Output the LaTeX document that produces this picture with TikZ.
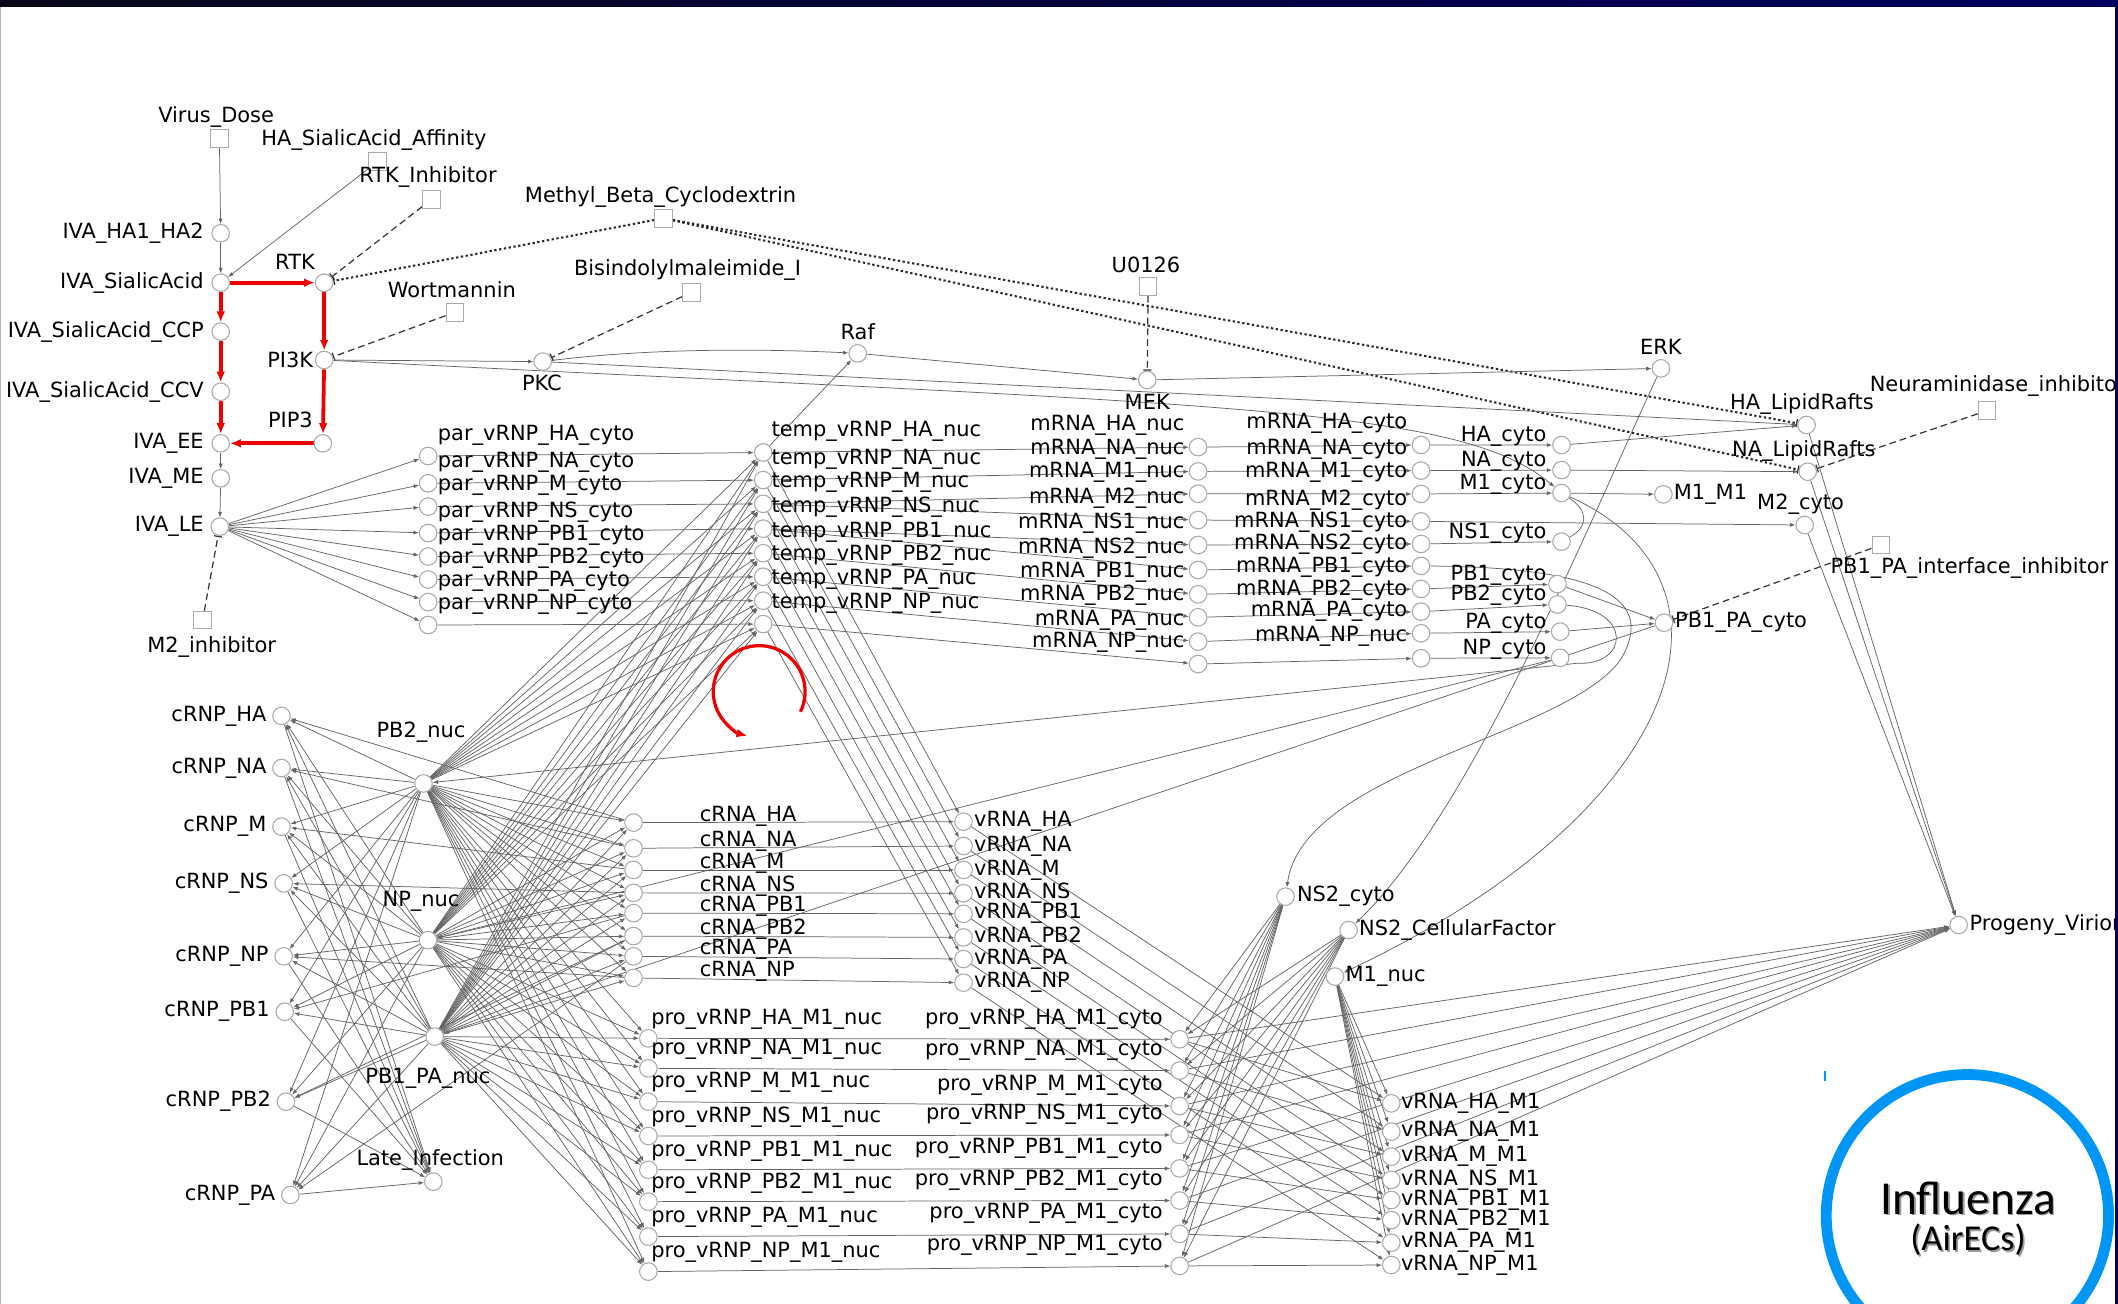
\documentclass[tikz,border=0pt]{standalone}
\usepackage{fontspec}
\setmainfont{DejaVu Sans}
\newfontfamily\titlefont{Carlito}
\usetikzlibrary{arrows.meta}
\pgfdeclarelayer{background}
\pgfsetlayers{background,main}
\definecolor{barleft}{RGB}{8,8,24}
\definecolor{barright}{RGB}{0,0,96}
\definecolor{ringblue}{RGB}{0,150,245}
\definecolor{edgegray}{RGB}{100,100,100}
\definecolor{nodegray}{RGB}{170,170,170}
\definecolor{hitred}{RGB}{238,0,0}
\tikzset{
  cn/.style={circle, draw=nodegray, fill=white, line width=0.8pt, minimum size=13pt, inner sep=0pt},
  sq/.style={rectangle, draw=nodegray, fill=white, line width=0.8pt, minimum size=13pt, inner sep=0pt},
  lbl/.style={font=\fontsize{15.5}{18}\selectfont, inner sep=0pt, text=black},
  ed/.style={draw=edgegray, line width=0.55pt, -{Latex[length=4pt,width=3pt]}},
  plain/.style={draw=edgegray, line width=0.55pt},
  inh/.style={draw=black!80, line width=0.9pt, dash pattern=on 5pt off 3pt, -{Bar[width=6pt,line width=0.9pt]}},
  dott/.style={draw=black!85, line width=1.5pt, dash pattern=on 1.7pt off 1.9pt, -{Bar[width=6pt,line width=0.9pt]}},
  hot/.style={draw=hitred, line width=2.8pt, -{Latex[length=8pt,width=6.5pt]}}
}
\begin{document}
\begin{tikzpicture}[x=1pt,y=-1pt]
\useasboundingbox (0,0) rectangle (1568,965);
\begin{pgfonlayer}{background}
  \fill[white] (0,0) rectangle (1568,965);
\end{pgfonlayer}

% ---------- entry and signalling ----------
\node[sq] (VirusDose) at (162.4,102.4) {};
\node[lbl] (VirusDose-t) at (160,86.4) {Virus\_Dose};
\node[sq] (Affinity) at (279.5,119.7) {};
\node[lbl] (Affinity-t) at (276.8,103.6) {HA\_SialicAcid\_Affinity};
\node[sq] (RTKInh) at (319.5,147.6) {};
\node[lbl] (RTKInh-t) at (316.8,131.3) {RTK\_Inhibitor};
\node[sq] (Methyl) at (491.2,161.6) {};
\node[lbl] (Methyl-t) at (489,146) {Methyl\_Beta\_Cyclodextrin};
\node[cn] (HA1HA2) at (163.4,172.7) {};
\node[lbl,anchor=east] (HA1HA2-t) at (151,172.7) {IVA\_HA1\_HA2};
\node[cn] (SialicAcid) at (163.4,209.3) {};
\node[lbl,anchor=east] (SialicAcid-t) at (151,209.3) {IVA\_SialicAcid};
\node[cn] (RTK) at (240,209.3) {};
\node[lbl] (RTK-t) at (218.4,193.7) {RTK};
\node[cn] (CCP) at (163.4,245.5) {};
\node[lbl,anchor=east] (CCP-t) at (151,245.5) {IVA\_SialicAcid\_CCP};
\node[cn] (PI3K) at (240,266.5) {};
\node[lbl,anchor=east] (PI3K-t) at (232,266.5) {PI3K};
\node[sq] (Wort) at (336.8,231.2) {};
\node[lbl] (Wort-t) at (334.5,214.7) {Wortmannin};
\node[sq] (Bis) at (511.9,216.4) {};
\node[lbl] (Bis-t) at (509,200) {Bisindolylmaleimide\_I};
\node[cn] (PKC) at (401.8,267.7) {};
\node[lbl] (PKC-t) at (401.2,283.8) {PKC};
\node[cn] (CCV) at (163.4,290) {};
\node[lbl,anchor=east] (CCV-t) at (151,290) {IVA\_SialicAcid\_CCV};
\node[cn] (PIP3) at (239,328.2) {};
\node[lbl] (PIP3-t) at (215,311) {PIP3};
\node[cn] (EE) at (163.4,328.2) {};
\node[lbl,anchor=east] (EE-t) at (151,328.2) {IVA\_EE};
\node[cn] (ME) at (163.4,354.1) {};
\node[lbl,anchor=east] (ME-t) at (151,354.1) {IVA\_ME};
\node[cn] (LE) at (162.7,389.9) {};
\node[lbl,anchor=east] (LE-t) at (151,389.9) {IVA\_LE};
\node[sq] (M2inh) at (150,459) {};
\node[lbl] (M2inh-t) at (156.7,478.7) {M2\_inhibitor};
\node[cn] (Raf) at (635,261.6) {};
\node[lbl] (Raf-t) at (635,245.5) {Raf};
\node[sq] (U0126) at (850,212.2) {};
\node[lbl] (U0126-t) at (848.4,196.2) {U0126};
\node[cn] (MEK) at (849.3,281.3) {};
\node[lbl] (MEK-t) at (849.3,297.4) {MEK};
\node[cn] (ERK) at (1229.6,272.7) {};
\node[lbl] (ERK-t) at (1229.6,256.6) {ERK};

% ---------- right-hand cytoplasm ----------
\node[cn] (HALR) at (1337.4,314.6) {};
\node[lbl] (HALR-t) at (1334,299) {HA\_LipidRafts};
\node[cn] (NALR) at (1338.3,349.2) {};
\node[lbl] (NALR-t) at (1335.4,333.6) {NA\_LipidRafts};
\node[sq] (NeuInh) at (1471,304) {};
\node[lbl,anchor=west] (NeuInh-t) at (1384,286) {Neuraminidase\_inhibitor};
\node[cn] (M2cyto) at (1336,388.7) {};
\node[lbl] (M2cyto-t) at (1333,373) {M2\_cyto};
\node[sq] (PBInh) at (1392.4,403.5) {};
\node[lbl,anchor=west] (PBInh-t) at (1355,420.6) {PB1\_PA\_interface\_inhibitor};
\node[cn] (PB1PAcyto) at (1231.9,461) {};
\node[lbl,anchor=west] (PB1PAcyto-t) at (1240,461) {PB1\_PA\_cyto};
\node[cn] (M1M1) at (1231.4,366) {};
\node[lbl,anchor=west] (M1M1-t) at (1239,366) {M1\_M1};

% ---------- vRNP columns ----------
\foreach \s/\y in {HA/337.6,NA/357.8,M/375,NS/394.6,PB1/412,PB2/429,PA/445.7,NP/462.7}{
  \node[cn] (par-\s) at (317,\y) {};
  \node[lbl,anchor=west] (par-\s-t) at (324,\y-15.5) {par\_vRNP\_\s\_cyto};
}
\foreach \s/\y in {HA/335,NA/355.4,M/373,NS/391.4,PB1/409.5,PB2/427,PA/444.7,NP/462}{
  \node[cn] (temp-\s) at (565,\y) {};
  \node[lbl,anchor=west] (temp-\s-t) at (571,\y-15.7) {temp\_vRNP\_\s\_nuc};
}
\foreach \s/\y in {HA/331,NA/349,M1/365.5,M2/385,NS1/403.5,NS2/422,PB1/440,PB2/457,PA/475,NP/491.6}{
  \node[cn] (mn-\s) at (887,\y) {};
  \node[lbl,anchor=east] (mn-\s-t) at (877,\y-16) {mRNA\_\s\_nuc};
}
\foreach \s/\y/\t in {HA/329.4/cyto,NA/348.4/cyto,M1/365.7/cyto,M2/386/cyto,NS1/402.7/cyto,NS2/419/cyto,PB1/436/cyto,PB2/452.8/cyto,PA/468.8/cyto,NP/487.3/nuc}{
  \node[cn] (mc-\s) at (1052,\y) {};
  \node[lbl,anchor=east] (mc-\s-t) at (1042,\y-16) {mRNA\_\s\_\t};
}
\foreach \s/\x/\y in {HA/1156/329.5,NA/1156/348,M1/1156/365,NS1/1156/401,PB1/1153/432.4,PB2/1153/447.5,PA/1155/467.6,NP/1155/487}{
  \node[cn] (p-\s) at (\x,\y) {};
  \node[lbl,anchor=east] (p-\s-t) at (1145,\y-6.5) {\s\_cyto};
}

% ---------- nucleus: replication ----------
\foreach \s/\x/\y in {HA/208.4/530,NA/208.4/568.6,M/208.4/612,NS/210/654,NP/210/708,PB1/210.8/749,PB2/211.7/815.6,PA/215/884.7}{
  \node[cn] (cRNP-\s) at (\x,\y) {};
  \node[lbl,anchor=east] (cRNP-\s-t) at (\x-11,\y) {cRNP\_\s};
}
\node[cn] (PB2nuc) at (313.5,580) {};
\node[lbl] (PB2nuc-t) at (311.7,541.7) {PB2\_nuc};
\node[cn] (NPnuc) at (316.8,696) {};
\node[lbl] (NPnuc-t) at (311.7,667.5) {NP\_nuc};
\node[cn] (PB1PAnuc) at (321.8,767.4) {};
\node[lbl] (PB1PAnuc-t) at (316.8,798) {PB1\_PA\_nuc};
\node[cn] (Late) at (320.8,874.8) {};
\node[lbl] (Late-t) at (318.5,858.8) {Late\_Infection};
\foreach \s/\y in {HA/609,NA/628,M/644,NS/661,PB1/676,PB2/693,PA/708,NP/724}{
  \node[cn] (cRNA-\s) at (469,\y) {};
  \node[lbl,anchor=west] (cRNA-\s-t) at (518,\y-5) {cRNA\_\s};
}
\foreach \s/\y in {HA/608.3,NA/626.3,M/644,NS/661.3,PB1/676.5,PB2/694,PA/710,NP/727.5}{
  \node[cn] (vRNA-\s) at (713.3,\y) {};
  \node[lbl,anchor=west] (vRNA-\s-t) at (721,\y) {vRNA\_\s};
}
\foreach \s/\y in {HA/768.7,NA/790.9,M/815.6,NS/841,PB1/866,PB2/889.6,PA/915.5,NP/941.4}{
  \node[cn] (pnuc-\s) at (480,\y) {};
  \node[lbl,anchor=west] (pnuc-\s-t) at (482,\y-14) {pro\_vRNP\_\s\_M1\_nuc};
}
\foreach \s/\y in {HA/769.4,NA/792.6,M/818.8,NS/840.2,PB1/865,PB2/888.8,PA/913.5,NP/937.2}{
  \node[cn] (pcyto-\s) at (873.3,\y) {};
  \node[lbl,anchor=east] (pcyto-\s-t) at (861,\y-15) {pro\_vRNP\_\s\_M1\_cyto};
}
\foreach \s/\y in {HA/816.8,NA/837.8,M/856.3,NS/873.5,PB1/888.4,PB2/903.2,PA/920,NP/936.5}{
  \node[cn] (vM1-\s) at (1030,\y) {};
  \node[lbl,anchor=west] (vM1-\s-t) at (1037,\y) {vRNA\_\s\_M1};
}
\node[cn] (NS2cyto) at (951.7,663.8) {};
\node[lbl,anchor=west] (NS2cyto-t) at (960,663.8) {NS2\_cyto};
\node[cn] (NS2CF) at (998.4,688.5) {};
\node[lbl,anchor=west] (NS2CF-t) at (1006,688.5) {NS2\_CellularFactor};
\node[cn] (M1nuc) at (988.3,723) {};
\node[lbl,anchor=west] (M1nuc-t) at (996,723) {M1\_nuc};
\node[cn] (Progeny) at (1450,684.8) {};
\node[lbl,anchor=west] (Progeny-t) at (1458,684.8) {Progeny\_Virion};

% ---------- connectors ----------
\begin{pgfonlayer}{background}
  \draw[ed] (VirusDose) -- (HA1HA2);
  \draw[ed] (HA1HA2) -- (SialicAcid);
  \draw[ed] (Affinity) -- (SialicAcid);
  \draw[hot] (SialicAcid) -- (RTK);
  \draw[hot] (RTK) -- (PI3K);
  \draw[hot] (PI3K) -- (PIP3);
  \draw[hot] (PIP3) -- (EE);
  \draw[hot] (SialicAcid) -- (CCP);
  \draw[hot] (CCP) -- (CCV);
  \draw[hot] (CCV) -- (EE);
  \draw[ed] (EE) -- (ME);
  \draw[ed] (ME) -- (LE);
  \draw[inh] (RTKInh) -- (RTK);
  \draw[inh] (Wort) -- (PI3K);
  \draw[inh] (Bis) -- (PKC);
  \draw[inh] (U0126) -- (MEK);
  \draw[inh] (M2inh) -- (LE);
  \draw[inh] (NeuInh) -- (NALR);
  \draw[inh] (PBInh) -- (PB1PAcyto);
  \draw[dott] (Methyl) -- (RTK);
  \draw[dott] (Methyl) -- (HALR);
  \draw[dott] (Methyl) -- (NALR);
  \draw[ed] (PI3K) -- (PKC);
  \draw[ed] (PKC) .. controls (480,258) and (560,258) .. (Raf);
  \draw[ed] (PKC) -- (HALR);
  \draw[ed] (PI3K) .. controls (900,300) and (1080,300) .. (p-M1);
  \draw[ed] (temp-HA) -- (Raf);
  \draw[ed] (Raf) -- (MEK);
  \draw[ed] (MEK) -- (ERK);
  \draw[ed] (ERK) .. controls (1175,390) and (1090,600) .. (NS2CF);

  \foreach \a/\b in {HA/HA,NA/NA,M/M1,M/M2,NS/NS1,NS/NS2,PB1/PB1,PB2/PB2,PA/PA,NP/NP}
    \draw[ed] (temp-\a) -- (mn-\b);
  \foreach \b in {HA,NA,M1,M2,NS1,NS2,PB1,PB2,PA,NP}
    \draw[ed] (mn-\b) -- (mc-\b);
  \foreach \b in {HA,NA,M1,NS1,PB1,PB2,PA,NP}
    \draw[ed] (mc-\b) -- (p-\b);
  \draw[ed] (mc-M2) -- (M2cyto);
  \draw[ed] (mc-NS2) .. controls (1190,420) and (1225,445) .. (1200,488)
            .. controls (1160,545) and (965,570) .. (NS2cyto);
  \draw[ed] (p-HA) -- (HALR);
  \draw[ed] (p-NA) -- (NALR);
  \draw[ed] (p-M1) -- (M1M1);
  \draw[plain] (p-M1) .. controls (1176,378) and (1176,390) .. (p-NS1);
  \draw[ed] (p-PB1) -- (PB1PAcyto);
  \draw[ed] (p-PA) -- (PB1PAcyto);
  \draw[ed] (p-M1) .. controls (1300,430) and (1250,600) .. (M1nuc);
  \draw[ed] (p-PB2) .. controls (1210,452) and (1205,493) .. (1168,491) -- (PB2nuc);
  \draw[ed] (p-NP) -- (NPnuc);
  \draw[ed] (PB1PAcyto) -- (PB1PAnuc);
  \draw[ed] (HALR) -- (Progeny);
  \draw[ed] (NALR) -- (Progeny);
  \draw[ed] (M2cyto) -- (Progeny);

  \foreach \s in {HA,NA,M,NS,PB1,PB2,PA,NP}{
    \draw[ed] (LE) -- (par-\s);
    \draw[ed] (par-\s) -- (temp-\s);
    \draw[ed] (temp-\s) -- (vRNA-\s);
    \draw[ed] (cRNA-\s) -- (vRNA-\s);
    \draw[ed] (cRNA-\s) -- (cRNP-\s);
    \draw[ed] (cRNP-\s) -- (Late);
    \draw[ed] (vRNA-\s) -- (vM1-\s);
    \draw[ed] (pnuc-\s) -- (pcyto-\s);
    \draw[ed] (pcyto-\s) -- (vM1-\s);
    \draw[ed] (pcyto-\s) -- (Progeny);
    \draw[ed] (NS2cyto) -- (pcyto-\s);
    \draw[ed] (NS2CF) -- (pcyto-\s);
    \draw[ed] (M1nuc) -- (vM1-\s);
    \foreach \h in {PB2nuc,NPnuc,PB1PAnuc}{
      \draw[ed] (\h) -- (cRNP-\s);
      \draw[ed] (\h) -- (cRNA-\s);
      \draw[ed] (\h) -- (temp-\s);
      \draw[ed] (\h) -- (pnuc-\s);
    }
  }
  % replication cycle marker
  \draw[hot, line width=2.4pt] (592.6,526.9) arc[start angle=26, end angle=-255, radius=34];
\end{pgfonlayer}

% ---------- title badge ----------
\draw[ringblue, line width=8pt] (1456.5,900) circle[radius=104.5];
\draw[ringblue, line width=1pt] (1351,793) -- (1351,800);
\node[text=black!40, font=\titlefont\fontsize{35}{37}\selectfont] (title-s) at (1458.2,888.2) {Influenza};
\node[text=black, font=\titlefont\fontsize{35}{37}\selectfont] (title) at (1457,887) {Influenza};
\node[text=black!40, font=\titlefont\fontsize{27}{30}\selectfont] (subtitle-s) at (1458.2,919.2) {(AirECs)};
\node[text=black, font=\titlefont\fontsize{27}{30}\selectfont] (subtitle) at (1457,918) {(AirECs)};

% ---------- frame ----------
\shade[left color=barleft, right color=barright] (0,0) rectangle (1568,5);
\fill[black!30] (0,5) rectangle (1,965);
\fill[barright] (1565.5,0) rectangle (1568,965);
\end{tikzpicture}
\end{document}
